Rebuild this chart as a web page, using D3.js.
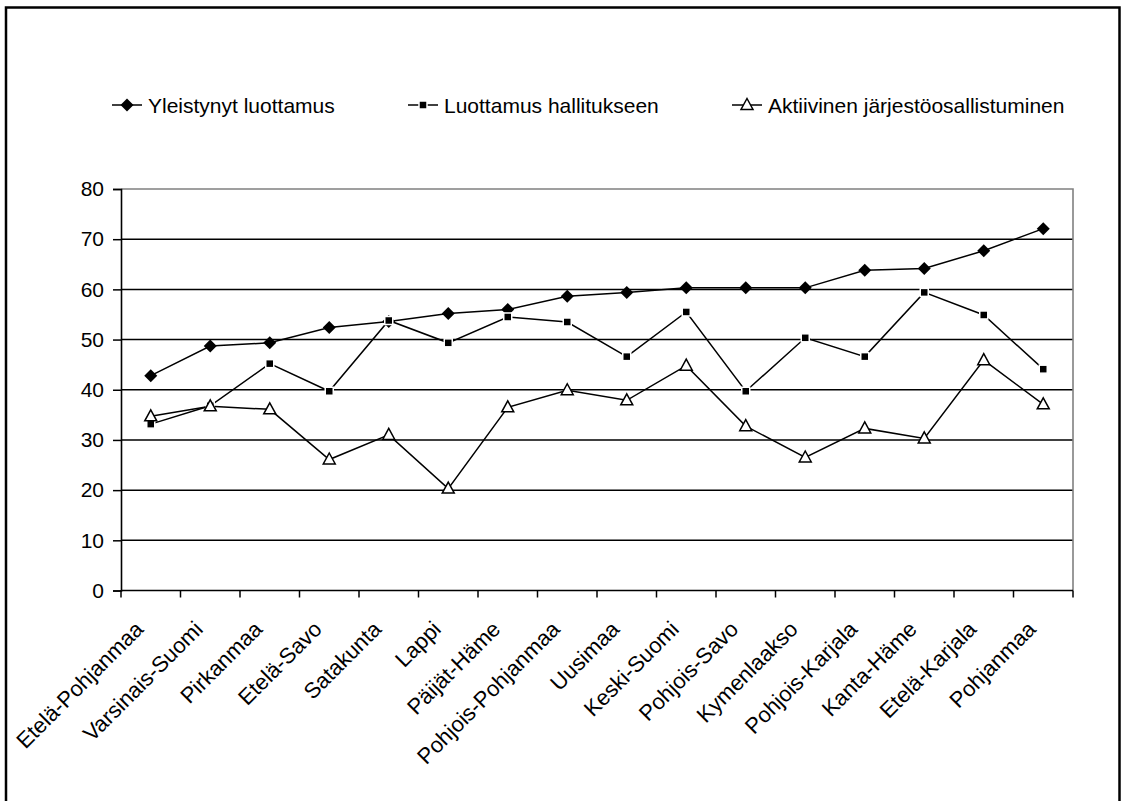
<!DOCTYPE html>
<html><head><meta charset="utf-8">
<script src="https://cdn.jsdelivr.net/npm/d3@7"></script>
<style>
body{margin:0;background:#fff}
svg{display:block}
text{font-family:"Liberation Sans",Arial,sans-serif;fill:#000}
</style></head>
<body><svg id="c" width="1125" height="801"></svg>
<script>
const categories = ["Etelä-Pohjanmaa","Varsinais-Suomi","Pirkanmaa","Etelä-Savo","Satakunta","Lappi","Päijät-Häme","Pohjois-Pohjanmaa","Uusimaa","Keski-Suomi","Pohjois-Savo","Kymenlaakso","Pohjois-Karjala","Kanta-Häme","Etelä-Karjala","Pohjanmaa"];
const yleistynyt = [42.8,48.7,49.35,52.4,53.6,55.2,56.0,58.65,59.4,60.3,60.3,60.3,63.8,64.15,67.7,72.1];
const hallitus = [33.15,36.8,45.2,39.7,53.8,49.35,54.5,53.5,46.6,55.5,39.7,50.35,46.6,59.4,54.9,44.1];
const aktiivinen = [34.7,36.7,36.1,26.1,31.0,20.3,36.5,39.9,37.9,44.8,32.75,26.5,32.3,30.3,45.9,37.1];
const seriesNames = ["Yleistynyt luottamus","Luottamus hallitukseen","Aktiivinen järjestöosallistuminen"];
const yTicks = [0,10,20,30,40,50,60,70,80];

const svg = d3.select("#c");
const FS = 21;
const L = 121, R = 1073, T = 189, B = 590.5;
const x = d3.scaleBand().domain(categories).range([L, R]);
const y = d3.scaleLinear().domain([0, 80]).range([B, T]);
const cx = c => x(c) + x.bandwidth() / 2;

// outer frame
svg.append("rect").attr("x", 6).attr("y", 7.5).attr("width", 1113.5).attr("height", 820)
  .attr("fill", "none").attr("stroke", "#000").attr("stroke-width", 2.5);

// gridlines
svg.append("g").selectAll("line").data(yTicks.filter(v => v > 0 && v < 80)).join("line")
  .attr("x1", L).attr("x2", R).attr("y1", d => y(d)).attr("y2", d => y(d))
  .attr("stroke", "#000").attr("stroke-width", 1.5);

// plot border top/right (gray)
svg.append("path").attr("d", `M${L},${y(80)}H${R}V${B}`).attr("fill", "none")
  .attr("stroke", "#808080").attr("stroke-width", 1.6);

// y axis
const ya = svg.append("g").attr("transform", `translate(${L},0)`)
  .call(d3.axisLeft(y).tickValues(yTicks).tickSize(8).tickPadding(9).tickFormat(d3.format("d")));
ya.select(".domain").attr("stroke", "#000").attr("stroke-width", 1.6);
ya.selectAll(".tick line").attr("stroke", "#000").attr("stroke-width", 1.5);
ya.selectAll(".tick text").attr("font-size", FS).attr("font-family", '"Liberation Sans",Arial,sans-serif').attr("fill", "#000");

// x axis line and boundary ticks
const bounds = categories.map(c => x(c)).concat([x.range()[1]]);
svg.append("line").attr("x1", L).attr("x2", R).attr("y1", B).attr("y2", B)
  .attr("stroke", "#000").attr("stroke-width", 1.6);
svg.append("g").selectAll("line").data(bounds).join("line")
  .attr("x1", d => d).attr("x2", d => d).attr("y1", B).attr("y2", B + 7)
  .attr("stroke", "#000").attr("stroke-width", 1.5);

// x labels
svg.append("g").selectAll("text").data(categories).join("text")
  .attr("transform", d => `translate(${cx(d) - 6},${B + 40}) rotate(-45)`)
  .attr("text-anchor", "end").attr("font-size", 22).text(d => d);

// series
const series = [
  {name: seriesNames[0], values: yleistynyt, marker: "diamond"},
  {name: seriesNames[1], values: hallitus, marker: "square"},
  {name: seriesNames[2], values: aktiivinen, marker: "triangle"}
];
const line = d3.line().x((d, i) => cx(categories[i])).y(d => y(d));

function drawMarker(g, type, px, py) {
  if (type === "diamond") {
    g.append("path").attr("d", `M${px},${py-6.5}L${px+6.5},${py}L${px},${py+6.5}L${px-6.5},${py}Z`)
      .attr("fill", "#000");
  } else if (type === "square") {
    g.append("rect").attr("x", px - 4).attr("y", py - 4).attr("width", 8).attr("height", 8)
      .attr("fill", "#000").attr("stroke", "#fff").attr("stroke-width", 1.5);
  } else {
    g.append("path").attr("d", `M${px},${py-6.5}L${px+6},${py+4.5}L${px-6},${py+4.5}Z`)
      .attr("fill", "#fff").attr("stroke", "#000").attr("stroke-width", 1.5);
  }
}

series.forEach(s => {
  svg.append("path").datum(s.values).attr("d", line).attr("fill", "none")
    .attr("stroke", "#000").attr("stroke-width", 1.5);
});
series.forEach(s => {
  const g = svg.append("g");
  s.values.forEach((v, i) => drawMarker(g, s.marker, cx(categories[i]), y(v)));
});

// legend
const legX = [112, 408, 732];
const legY = 105;
series.forEach((s, i) => {
  const g = svg.append("g");
  g.append("line").attr("x1", legX[i]).attr("x2", legX[i] + 30).attr("y1", legY).attr("y2", legY)
    .attr("stroke", "#000").attr("stroke-width", 1.5);
  drawMarker(g, s.marker, legX[i] + 15, legY);
  g.append("text").attr("x", legX[i] + 36).attr("y", legY + 7.5).attr("font-size", FS).text(s.name);
});
</script>
</body></html>
